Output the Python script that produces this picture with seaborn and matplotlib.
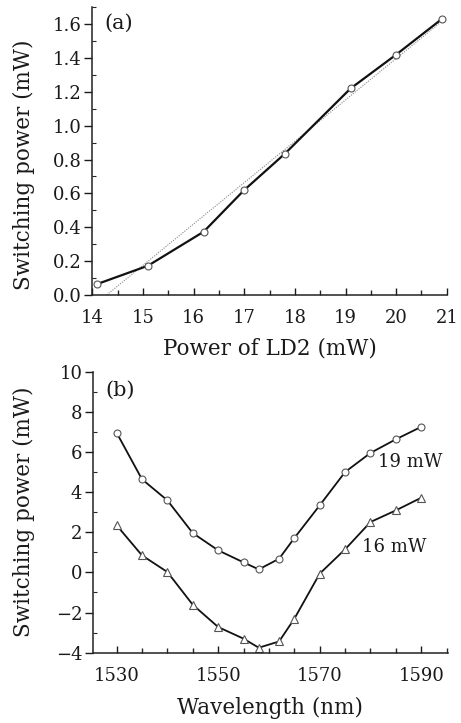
import numpy as np
import pandas as pd
import matplotlib
matplotlib.use("Agg")
import matplotlib.pyplot as plt
from matplotlib.ticker import MultipleLocator, FixedLocator, FormatStrFormatter
import seaborn as sns

# ---- data (panel a) ----
ld2_power = [14.1, 15.1, 16.2, 17.0, 17.8, 19.1, 20.0, 20.9]
switch_a = [0.065, 0.173, 0.374, 0.62, 0.834, 1.22, 1.42, 1.63]

# ---- data (panel b) ----
wavelength = [1530, 1535, 1540, 1545, 1550, 1555, 1558, 1562, 1565, 1570, 1575, 1580, 1585, 1590]
switch_19 = [6.96, 4.64, 3.59, 1.96, 1.10, 0.50, 0.15, 0.68, 1.71, 3.34, 5.00, 5.95, 6.63, 7.25]
switch_16 = [2.35, 0.85, 0.02, -1.61, -2.72, -3.30, -3.75, -3.44, -2.31, -0.06, 1.15, 2.51, 3.09, 3.72]
series_labels = ["19 mW", "16 mW"]

sns.set_theme(style="ticks")
plt.rcParams['font.family'] = ['DejaVu Serif']
plt.rcParams['axes.linewidth'] = 1.1
TXT = "#1a1a1a"

fig = plt.figure(figsize=(4.61, 7.23), dpi=100)
ax1 = fig.add_axes([0.2002, 0.592, 0.769, 0.398])
ax2 = fig.add_axes([0.2011, 0.0972, 0.770, 0.3888])

df_a = pd.DataFrame({"x": ld2_power, "y": switch_a})
sns.regplot(data=df_a, x="x", y="y", ax=ax1, scatter=False, ci=None,
            line_kws=dict(color="#888888", lw=0.8, ls=(0, (1, 1.2))))
sns.lineplot(data=df_a, x="x", y="y", ax=ax1, color="#111111", lw=1.6,
             marker="o", markersize=5, markerfacecolor="white",
             markeredgecolor="#555555", markeredgewidth=0.8)

ax1.set_xlim(14, 21)
ax1.set_ylim(0, 1.7)
ax1.xaxis.set_major_locator(MultipleLocator(1))
ax1.xaxis.set_minor_locator(MultipleLocator(0.5))
ax1.yaxis.set_major_locator(FixedLocator([0, .2, .4, .6, .8, 1.0, 1.2, 1.4, 1.6]))
ax1.yaxis.set_minor_locator(MultipleLocator(0.1))
ax1.yaxis.set_major_formatter(FormatStrFormatter('%.1f'))
ax1.set_xlabel("Power of LD2 (mW)", fontsize=15.5, color=TXT, labelpad=8)
ax1.set_ylabel("Switching power (mW)", fontsize=15.5, color=TXT)
ax1.text(0.035, 0.943, "(a)", transform=ax1.transAxes, fontsize=15, color=TXT,
         va="center", ha="left")

df_b = pd.DataFrame({"wl": wavelength + wavelength,
                     "p": switch_19 + switch_16,
                     "s": [series_labels[0]] * len(wavelength) + [series_labels[1]] * len(wavelength)})
sns.lineplot(data=df_b[df_b.s == series_labels[0]], x="wl", y="p", ax=ax2, color="#111111", lw=1.3,
             marker="o", markersize=5, markerfacecolor="white",
             markeredgecolor="#555555", markeredgewidth=0.8)
sns.lineplot(data=df_b[df_b.s == series_labels[1]], x="wl", y="p", ax=ax2, color="#111111", lw=1.3,
             marker="^", markersize=5.5, markerfacecolor="white",
             markeredgecolor="#555555", markeredgewidth=0.8)
ax2.text(1581.5, 5.52, series_labels[0], fontsize=13, color=TXT, va="center", ha="left")
ax2.text(1578.3, 1.28, series_labels[1], fontsize=13, color=TXT, va="center", ha="left")

ax2.set_xlim(1525.3, 1595.2)
ax2.set_ylim(-4, 10)
ax2.xaxis.set_major_locator(FixedLocator([1530, 1550, 1570, 1590]))
ax2.xaxis.set_minor_locator(MultipleLocator(5))
ax2.yaxis.set_major_locator(MultipleLocator(2))
ax2.yaxis.set_minor_locator(MultipleLocator(1))
ax2.set_xlabel("Wavelength (nm)", fontsize=15.5, color=TXT, labelpad=9)
ax2.set_ylabel("Switching power (mW)", fontsize=15.5, color=TXT)
ax2.text(0.035, 0.935, "(b)", transform=ax2.transAxes, fontsize=15, color=TXT,
         va="center", ha="left")

for ax in (ax1, ax2):
    sns.despine(ax=ax)
    ax.tick_params(axis="x", which="major", direction="in", length=5, width=1, labelsize=13,
                   colors=TXT, pad=10)
    ax.tick_params(axis="x", which="minor", direction="in", length=3.5, width=1)
    ax.tick_params(axis="y", which="major", direction="out", length=6, width=1, labelsize=13,
                   colors=TXT, pad=1.5)
    ax.tick_params(axis="y", which="minor", direction="in", length=3, width=0.8)
    for sp in ("left", "bottom"):
        ax.spines[sp].set_color("#222222")

ax1.yaxis.set_label_coords(-0.162, 0.451)
ax2.yaxis.set_label_coords(-0.162, 0.5)

fig.savefig("out.png", dpi=100)
